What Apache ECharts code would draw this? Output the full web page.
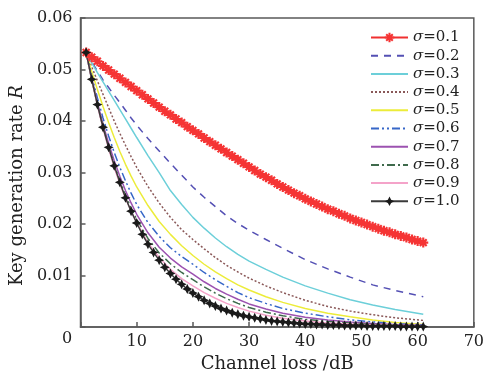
<!DOCTYPE html>
<html>
<head>
<meta charset="utf-8">
<script src="https://cdn.jsdelivr.net/npm/echarts@6/dist/echarts.min.js"></script>
<style>
  html, body { margin: 0; padding: 0; background: #fff; }
  #chart { width: 487px; height: 378px; }
</style>
</head>
<body>
<div id="chart"></div>
<script>
// channel loss (dB) for the marker curves, one point per dB
const lossFine = [1, 2, 3, 4, 5, 6, 7, 8, 9, 10, 11, 12, 13, 14, 15, 16, 17, 18, 19, 20,
  21, 22, 23, 24, 25, 26, 27, 28, 29, 30, 31, 32, 33, 34, 35, 36, 37, 38, 39, 40,
  41, 42, 43, 44, 45, 46, 47, 48, 49, 50, 51, 52, 53, 54, 55, 56, 57, 58, 59, 60, 61];
// channel loss (dB) for the plain curves
const lossCoarse = [1, 2, 3, 4, 5, 6, 7, 8, 9, 10, 12, 14, 16, 18, 20, 22, 24, 26, 28, 30, 33, 36, 40, 44, 48, 52, 56, 61];

const sigma01 = [.0533, .0524, .0516, .0507, .0499, .0491, .0483, .0475, .0467, .0459,
  .0451, .0443, .0435, .0427, .0419, .0412, .0404, .0397, .0389, .0382,
  .0375, .0367, .0360, .0353, .0346, .0339, .0332, .0325, .0318, .0311,
  .0304, .0297, .0291, .0285, .0278, .0272, .0266, .0260, .0255, .0249,
  .0244, .0239, .0234, .0229, .0225, .0220, .0216, .0211, .0207, .0203,
  .0199, .0195, .0191, .0187, .0184, .0180, .0177, .0174, .0170, .0167, .0164];
const sigma02 = [.0533, .0515, .0497, .0480, .0465, .0450, .0436, .0421, .0406, .0392, .0366, .0342, .0318, .0295,
  .0272, .0252, .0234, .0216, .0201, .0188, .0170, .0153, .0131, .0113, .0097, .0082, .0071, .0059];
const sigma03 = [.0533, .0513, .0494, .0476, .0458, .0440, .0422, .0404, .0386, .0368, .0333, .0300, .0265, .0238,
  .0213, .0192, .0173, .0156, .0141, .0128, .0112, .0097, .0080, .0066, .0053, .0043, .0034, .0025];
const sigma04 = [.0533, .0505, .0478, .0452, .0426, .0400, .0376, .0353, .0331, .0310, .0273, .0241, .0213, .0189,
  .0170, .0152, .0135, .0120, .0107, .0095, .0080, .0067, .0052, .0040, .0031, .0024, .0018, .0013];
const sigma05 = [.0533, .0496, .0461, .0428, .0397, .0368, .0341, .0316, .0293, .0272, .0236, .0205, .0180, .0158,
  .0139, .0122, .0107, .0094, .0082, .0072, .0059, .0048, .0036, .0027, .0020, .0014, .0009, .0005];
const sigma06 = [.0533, .0487, .0445, .0406, .0371, .0339, .0310, .0284, .0260, .0238, .0203, .0176, .0154, .0137,
  .0122, .0106, .0092, .0079, .0067, .0057, .0046, .0036, .0027, .0020, .0014, .0010, .0007, .0004];
const sigma07 = [.0533, .0482, .0436, .0394, .0357, .0323, .0293, .0265, .0241, .0219, .0183, .0155, .0134, .0117,
  .0103, .0088, .0075, .0064, .0054, .0045, .0035, .0027, .0019, .0014, .0010, .0007, .0005, .0003];
const sigma08 = [.0533, .0480, .0432, .0389, .0350, .0315, .0284, .0256, .0231, .0209, .0172, .0144, .0123, .0106,
  .0092, .0078, .0066, .0055, .0046, .0038, .0029, .0022, .0015, .0011, .0008, .0005, .0004, .0002];
const sigma09 = [.0533, .0479, .0430, .0386, .0346, .0310, .0278, .0250, .0225, .0203, .0164, .0135, .0112, .0094,
  .0080, .0067, .0056, .0046, .0038, .0031, .0023, .0017, .0012, .0008, .0006, .0004, .0003, .0002];
const sigma10 = [.0533, .0481, .0432, .0388, .0349, .0313, .0281, .0251, .0225, .0202,
  .0180, .0161, .0145, .0130, .0116, .0104, .0093, .0083, .0074, .0066,
  .0059, .0052, .0046, .0041, .0036, .0032, .0028, .0025, .0022, .0020,
  .0018, .0016, .0014, .0012, .0011, .0010, .0009, .0008, .0007, .0006,
  .0006, .0005, .0005, .0004, .0004, .0004, .0003, .0003, .0003, .0003,
  .0002, .0002, .0002, .0002, .0002, .0002, .0001, .0001, .0001, .0001, .0001];

const seriesNames = ['σ=0.1', 'σ=0.2', 'σ=0.3', 'σ=0.4', 'σ=0.5', 'σ=0.6', 'σ=0.7', 'σ=0.8', 'σ=0.9', 'σ=1.0'];

const FONT = 'DejaVu Serif';
const AXIS = '#5a5a5a';
const TEXT = '#222';

// marker shapes
const asterisk = 'path://M-1.3,-6h2.6v12h-2.6z M-6,-1.3h12v2.6h-12z M-5,-3.2L-3.2,-5L5,3.2L3.2,5z M3.2,-5L5,-3.2L-3.2,5L-5,3.2z';
const star4 = 'path://M0,-6L2,-2L6,0L2,2L0,6L-2,2L-6,0L-2,-2z';

function pairs(xs, ys) {
  return xs.map((x, i) => [x, ys[i]]);
}

function plain(name, ys, color, type) {
  return {
    name: name,
    type: 'line',
    data: pairs(lossCoarse, ys),
    symbol: 'none',
    lineStyle: { color: color, width: 1.5, type: type || 'solid' },
    itemStyle: { color: color }
  };
}

// legend: plain curves show only their line sample
const legendData = seriesNames.map((n, i) =>
  (i === 0 || i === 9) ? { name: n } : { name: n, itemStyle: { opacity: 0 } });

const chart = echarts.init(document.getElementById('chart'));
chart.setOption({
  animation: false,
  backgroundColor: '#fff',
  textStyle: { fontFamily: FONT },
  grid: {
    left: 80, right: 10, top: 18, bottom: 48,
    show: true, borderColor: AXIS, borderWidth: 1.5
  },
  legend: {
    orient: 'vertical',
    left: 370,
    top: 30,
    padding: 0,
    itemWidth: 37,
    itemHeight: 12,
    itemGap: 3.2,
    data: legendData,
    textStyle: {
      fontFamily: FONT, fontSize: 15, color: TEXT,
      rich: { i: { fontFamily: FONT, fontSize: 15, fontStyle: 'italic', color: TEXT } }
    },
    formatter: name => '{i|σ}' + name.slice(1)
  },
  xAxis: {
    type: 'value',
    min: 0, max: 70, interval: 10,
    name: 'Channel loss /dB',
    nameLocation: 'middle',
    nameGap: 26,
    nameTextStyle: { fontFamily: FONT, fontSize: 18, color: TEXT },
    axisLine: { lineStyle: { color: AXIS, width: 1.5 } },
    axisTick: { inside: true, length: 5, lineStyle: { color: AXIS, width: 1.5 } },
    axisLabel: {
      margin: 7, fontFamily: FONT, fontSize: 16, color: TEXT,
      formatter: v => (v === 0 ? '' : String(v))
    },
    splitLine: { show: false }
  },
  yAxis: {
    type: 'value',
    min: 0, max: 0.06, interval: 0.01,
    name: 'Key generation rate {i|R}',
    nameLocation: 'middle',
    nameGap: 50,
    nameTextStyle: {
      fontFamily: FONT, fontSize: 18, color: TEXT,
      padding: [0, 26, 0, 0],
      rich: { i: { fontFamily: FONT, fontSize: 18, fontStyle: 'italic', color: TEXT } }
    },
    axisLine: { lineStyle: { color: AXIS, width: 1.5 } },
    axisTick: { inside: true, length: 5, lineStyle: { color: AXIS, width: 1.5 } },
    axisLabel: {
      margin: 8, fontFamily: FONT, fontSize: 16, color: TEXT,
      formatter: v => (v === 0 ? '' : v.toFixed(2))
    },
    splitLine: { show: false }
  },
  graphic: [{
    type: 'text',
    left: 62, top: 331,
    style: { text: '0', fontFamily: FONT, fontSize: 16, fill: TEXT }
  }],
  series: [
    {
      name: seriesNames[0],
      type: 'line',
      data: pairs(lossFine, sigma01),
      symbol: asterisk,
      symbolSize: 10,
      lineStyle: { color: '#f03030', width: 1.5 },
      itemStyle: { color: '#f53434' }
    },
    plain(seriesNames[1], sigma02, '#5450b4', [7, 6]),
    plain(seriesNames[2], sigma03, '#6ccfd9'),
    plain(seriesNames[3], sigma04, '#8a5858', [2, 2]),
    plain(seriesNames[4], sigma05, '#ecec3a'),
    plain(seriesNames[5], sigma06, '#3767c8', [8, 3, 2, 3, 2, 3]),
    plain(seriesNames[6], sigma07, '#9c52b0'),
    plain(seriesNames[7], sigma08, '#3f6a4c', [8, 3, 2, 3]),
    plain(seriesNames[8], sigma09, '#f4a3c9'),
    {
      name: seriesNames[9],
      type: 'line',
      data: pairs(lossFine, sigma10),
      symbol: star4,
      symbolSize: 10,
      lineStyle: { color: '#3a3a3a', width: 1.5 },
      itemStyle: { color: '#1a1a1a' }
    }
  ]
});
</script>
</body>
</html>
